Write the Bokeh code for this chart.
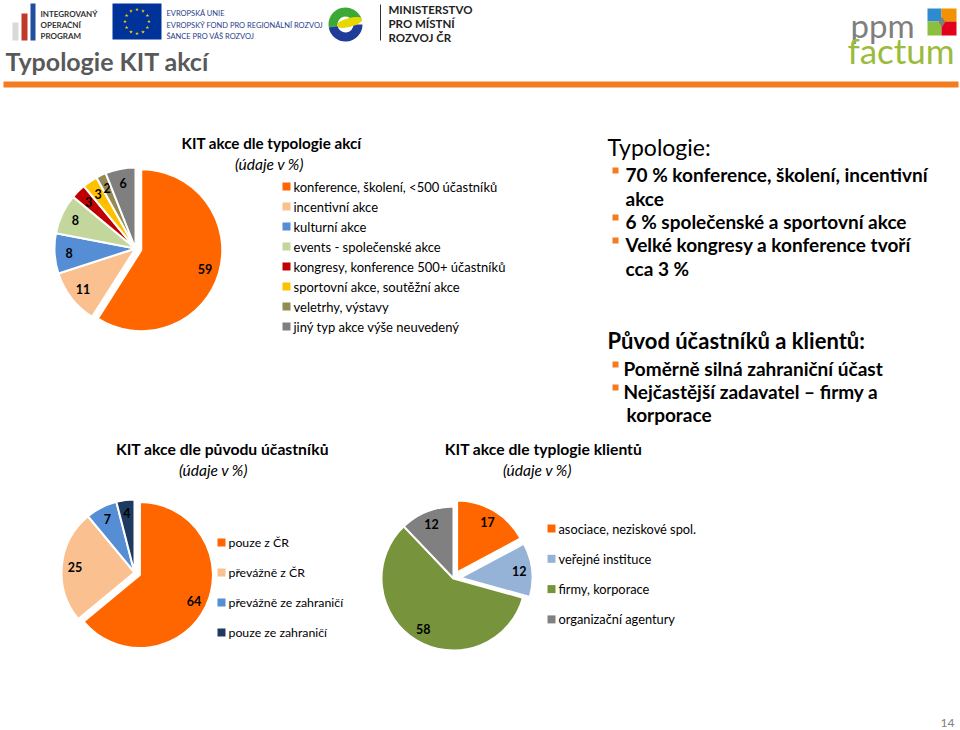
import math
from bokeh.plotting import figure
from bokeh.models import Range1d
from bokeh.core.properties import value
from bokeh.embed import file_html
from bokeh.resources import INLINE

# ---------------- data ----------------
typ_labels = ["konference, školení,  <500 účastníků", "incentivní akce", "kulturní akce",
              "events - společenské akce", "kongresy, konference 500+ účastníků",
              "sportovní akce,  soutěžní akce", "veletrhy, výstavy", "jiný typ akce  výše neuvedený"]
typ_values = [59, 11, 8, 8, 3, 3, 2, 6]
typ_colors = ["#FF6600", "#FAC090", "#558ED5", "#C3D69B", "#C00000", "#FFC000", "#948A54", "#7F7F7F"]

orig_labels = ["pouze z ČR", "převážně z ČR", "převážně ze zahraničí", "pouze ze  zahraničí"]
orig_values = [64, 25, 7, 4]
orig_colors = ["#FF6600", "#FAC090", "#558ED5", "#1F3A60"]

cli_labels = ["asociace,  neziskové  spol.", "veřejné instituce", "firmy, korporace", "organizační  agentury"]
cli_values = [17, 12, 58, 12]
cli_colors = ["#FF6600", "#95B3D7", "#77933C", "#808080"]

FONT = "Lato"

p = figure(width=960, height=730, x_range=Range1d(0, 960), y_range=Range1d(730, 0),
           output_backend="svg", toolbar_location=None, min_border=0)
p.xaxis.visible = False
p.yaxis.visible = False
p.xgrid.visible = False
p.ygrid.visible = False
p.outline_line_color = None
p.background_fill_color = "white"


def txt(x, y, s, size, color="#000000", style="normal", align="left"):
    p.text(x=[x], y=[y], text=[s], text_font=value(FONT), text_font_size=size,
           text_color=color, text_font_style=style, text_align=align, text_baseline="middle")


def pie(cx, cy, r, values, colors, explode, label_frac=0.82):
    total = float(sum(values))
    start = 0.0
    for v, c, ex in zip(values, colors, explode):
        frac = v / total
        t1, t2 = start * 360.0, (start + frac) * 360.0
        mid = math.radians((t1 + t2) / 2.0)
        dx, dy = math.sin(mid), -math.cos(mid)
        x0, y0 = cx + ex * dx, cy + ex * dy
        p.wedge(x=[x0], y=[y0], radius=r, radius_units="screen",
                start_angle=math.radians(90 - t2), end_angle=math.radians(90 - t1),
                fill_color=c, line_color="white", line_width=2)
        txt(x0 + label_frac * r * dx, y0 + label_frac * r * dy, str(v), "12.5px",
            "#000000", "bold", "center")
        start += frac


def legend(x, y0, step, labels, colors, size):
    for i, (lab, c) in enumerate(zip(labels, colors)):
        y = y0 + i * step
        p.scatter(x=[x], y=[y], marker="square", size=8, fill_color=c, line_color=None)
        txt(x + 7, y, lab, size)


# ---------------- header ----------------
# IOP logo
p.quad(left=[12], right=[18], top=[22], bottom=[40], fill_color="#D9D9D9", line_color=None)
p.quad(left=[21], right=[27], top=[13], bottom=[40], fill_color="#C0392B", line_color=None)
p.quad(left=[30], right=[35], top=[3], bottom=[40], fill_color="#1F4E9C", line_color=None)
for i, s in enumerate(["INTEGROVANÝ", "OPERAČNÍ", "PROGRAM"]):
    txt(40, 13 + i * 11, s, "8px", "#333333", "bold")
# EU flag
p.quad(left=[112], right=[161], top=[3], bottom=[39], fill_color="#003399", line_color=None)
sx = [136.5 + 12 * math.cos(math.radians(a)) for a in range(0, 360, 30)]
sy = [21 + 12 * math.sin(math.radians(a)) for a in range(0, 360, 30)]
p.scatter(x=sx, y=sy, marker="star", size=4, fill_color="#FFCC00", line_color=None)
for i, s in enumerate(["EVROPSKÁ UNIE", "EVROPSKÝ FOND PRO REGIONÁLNÍ ROZVOJ", "ŠANCE PRO VÁŠ ROZVOJ"]):
    txt(166, 13 + i * 11.5, s, "7.5px", "#1F3C88")
# MMR logo
p.annular_wedge(x=[345], y=[24], inner_radius=8, outer_radius=17,
                inner_radius_units="screen", outer_radius_units="screen",
                start_angle=math.radians(20), end_angle=math.radians(190),
                fill_color="#3AA935", line_color=None)
p.annular_wedge(x=[345], y=[24], inner_radius=8, outer_radius=17,
                inner_radius_units="screen", outer_radius_units="screen",
                start_angle=math.radians(190), end_angle=math.radians(360),
                fill_color="#1F3C99", line_color=None)
p.ellipse(x=[349], y=[22], width=26, height=9, angle=math.radians(15),
          fill_color="#E6D800", line_color=None)
p.segment(x0=[380], y0=[4], x1=[380], y1=[40], line_color="#333333", line_width=1)
for i, s in enumerate(["MINISTERSTVO", "PRO MÍSTNÍ", "ROZVOJ ČR"]):
    txt(388, 9 + i * 14, s, "11.5px", "#222222", "bold")
# ppm factum logo
txt(850, 24, "ppm", "33px", "#7F7F7F")
txt(847, 49, "factum", "35px", "#9BBB3B")
p.quad(left=[927], right=[941], top=[8], bottom=[21], fill_color="#2E8BD0", line_color=None)
p.quad(left=[941], right=[956], top=[8], bottom=[21], fill_color="#F39200", line_color=None)
p.quad(left=[927], right=[941], top=[21], bottom=[35], fill_color="#8CBF3F", line_color=None)
p.quad(left=[941], right=[956], top=[21], bottom=[35], fill_color="#E2001A", line_color=None)
p.scatter(x=[941.5], y=[21.5], marker="diamond", size=10, fill_color="#7F7F7F", line_color=None)

# title and bar
txt(5, 60, "Typologie KIT akcí", "25px", "#595959", "bold")
p.quad(left=[3], right=[958], top=[81], bottom=[87], fill_color="#F47B20", line_color=None)

# ---------------- chart 1 ----------------
txt(271, 142, "KIT akce dle typologie akcí", "15.2px", "#000000", "bold", "center")
txt(269, 163, "(údaje v %)", "15.5px", "#000000", "italic", "center")
pie(135, 248, 81, typ_values, typ_colors, [6, 0, 0, 0, 0, 0, 0, 0])
legend(286, 186, 20, typ_labels, typ_colors, "13px")

# ---------------- chart 2 ----------------
txt(222, 448, "KIT akce dle původu účastníků", "15.7px", "#000000", "bold", "center")
txt(213, 469, "(údaje v %)", "15.5px", "#000000", "italic", "center")
pie(134, 572, 73, orig_values, orig_colors, [6, 0, 0, 0])
legend(221, 542, 30, orig_labels, orig_colors, "12.3px")

# ---------------- chart 3 ----------------
txt(543, 448, "KIT akce dle typlogie klientů", "15.7px", "#000000", "bold", "center")
txt(537, 469, "(údaje v %)", "15.5px", "#000000", "italic", "center")
pie(453, 578, 72, cli_values, cli_colors, [7, 7, 0, 0])
legend(551, 528, 30.3, cli_labels, cli_colors, "12.8px")

# ---------------- right text ----------------
txt(607, 146, "Typologie:", "23px", "#000000")
bul = [(174, "70 % konference, školení, incentivní", True),
       (198, "akce", False),
       (221, "6 % společenské a sportovní akce", True),
       (244, "Velké kongresy a konference tvoří", True),
       (268, " cca 3 %", False),
       ]
for y, s, b in bul:
    if b:
        p.scatter(x=[615], y=[y - 4], marker="square", size=6, fill_color="#F47B20", line_color=None)
    txt(625, y, s, "19px", "#000000", "bold")
txt(607, 340, "Původ účastníků a klientů:", "22px", "#000000", "bold")
bul2 = [(368, "Poměrně silná zahraniční účast", True),
        (391, "Nejčastější zadavatel – firmy a", True),
        (414, "korporace", False)]
for y, s, b in bul2:
    if b:
        p.scatter(x=[615], y=[y - 4], marker="square", size=6, fill_color="#F47B20", line_color=None)
    txt(623 if b else 626, y, s, "19px", "#000000", "bold")

txt(947, 722, "14", "12px", "#808080", "normal", "center")

open("out.html", "w").write(file_html(p, INLINE))
